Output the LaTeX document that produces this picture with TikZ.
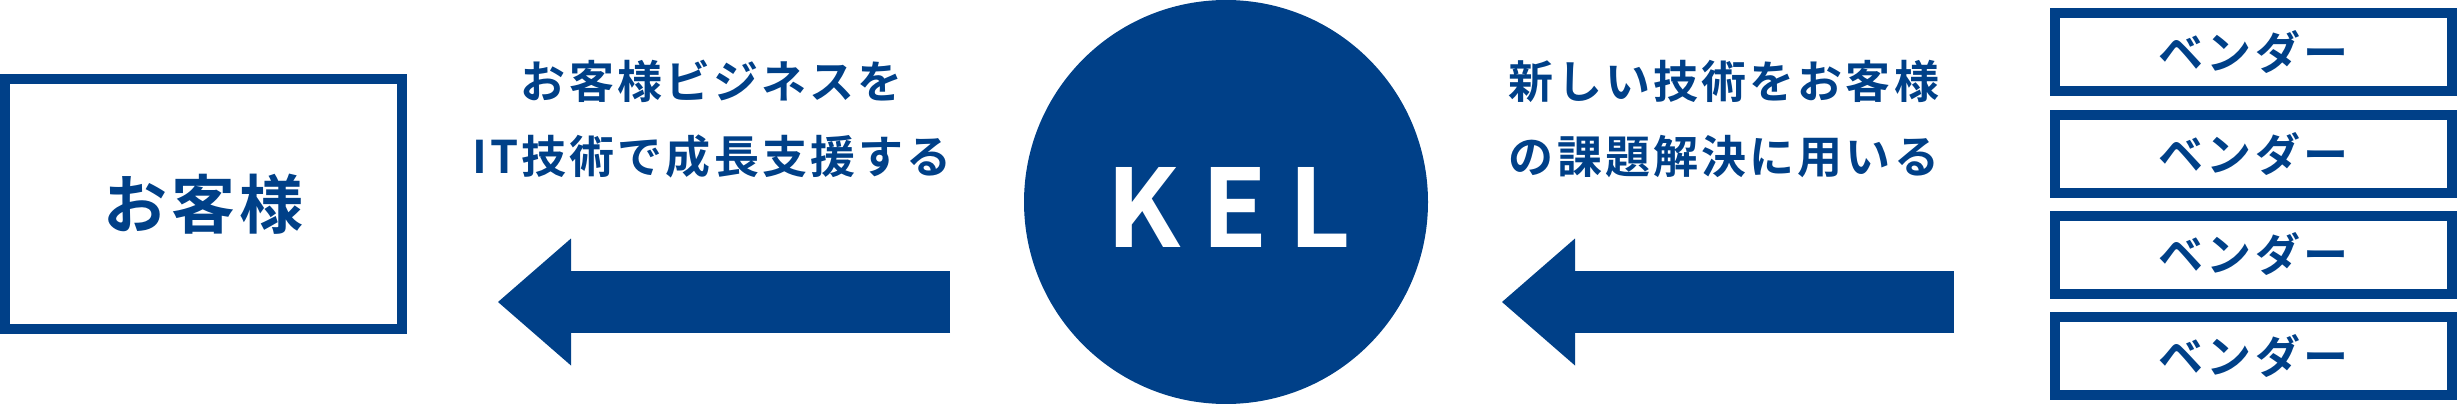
\documentclass[tikz,border=0pt]{standalone}
\usepackage{fontspec}
\newfontfamily\jpfont{Noto Sans CJK JP Bold}[LetterSpace=7]
\newfontfamily\kelfont{Noto Sans CJK JP Bold}
\usepackage{tikz}
\usetikzlibrary{arrows.meta}
\definecolor{kelblue}{RGB}{0,64,136}

\begin{document}
\begin{tikzpicture}[>={Triangle[width=127pt,length=73pt,line width=0pt]}, frame/.style={draw=kelblue, line width=10pt, minimum width=397pt, inner sep=0pt, text=kelblue, font=\jpfont\fontsize{45pt}{45pt}\selectfont}, caption/.style={text=kelblue, align=center, inner sep=0pt, font=\jpfont\fontsize{45pt}{75pt}\selectfont}, flow/.style={->, color=kelblue, line width=62pt}]
\useasboundingbox (0pt, 0pt) rectangle (2458pt, -404pt);
\draw (203.5pt, -204.0pt)node[frame, minimum height=250pt, font=\jpfont\fontsize{64pt}{64pt}\selectfont](customer){お客様};
\draw (1226.0pt, -202.0pt)node[circle, fill=kelblue, minimum size=404pt, inner sep=0pt](kel){};
\draw (1229.0pt, -207.0pt)node[text=white, inner sep=0pt, font=\kelfont\fontsize{108pt}{108pt}\selectfont](kellabel){K\hspace{21pt}E\hspace{21pt}L};
\draw (2253.5pt, -52.0pt)node[frame, minimum height=78pt](v1){ベンダー};
\draw (2253.5pt, -154.0pt)node[frame, minimum height=78pt](v2){ベンダー};
\draw (2253.5pt, -254.5pt)node[frame, minimum height=78pt](v3){ベンダー};
\draw (2253.5pt, -356.0pt)node[frame, minimum height=78pt](v4){ベンダー};
\draw (712.0pt, -119.0pt)node[caption](support){お客様ビジネスを\\IT技術で成長支援する};
\draw (1724.0pt, -119.0pt)node[caption](solve){新しい技術をお客様\\の課題解決に用いる};
\draw (950.0pt, -302.0pt)coordinate(s1);
\draw (498.0pt, -302.0pt)coordinate(t1);
\draw (1954.0pt, -302.0pt)coordinate(s2);
\draw (1502.0pt, -302.0pt)coordinate(t2);
\path (s1) edge[flow] (t1);
\path (s2) edge[flow] (t2);
\end{tikzpicture}
\end{document}
